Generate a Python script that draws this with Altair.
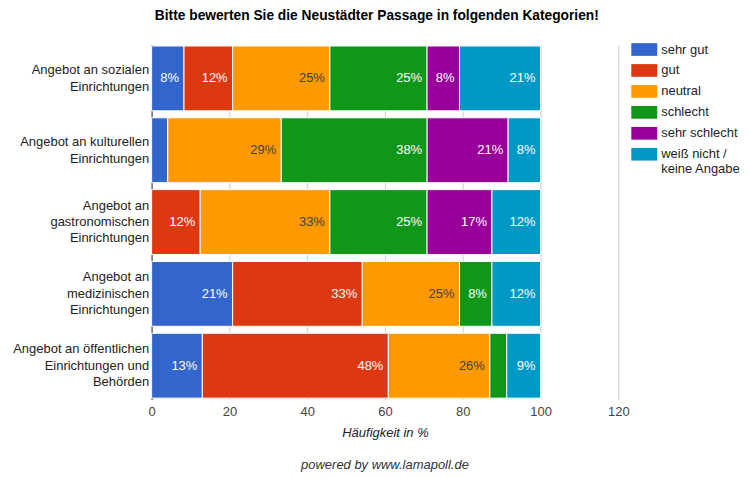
import altair as alt
import pandas as pd

categories = [
    "Angebot an sozialen|Einrichtungen",
    "Angebot an kulturellen|Einrichtungen",
    "Angebot an|gastronomischen|Einrichtungen",
    "Angebot an|medizinischen|Einrichtungen",
    "Angebot an öffentlichen|Einrichtungen und|Behörden",
]
options = ["sehr gut", "gut", "neutral", "schlecht", "sehr schlecht", "weiß nicht /|keine Angabe"]
colors = ["#3366cc", "#dc3912", "#ff9900", "#109618", "#990099", "#0099c6"]

sehr_gut = [8.33, 4.17, 0.0, 20.83, 13.04]
gut = [12.5, 0.0, 12.5, 33.33, 47.83]
neutral = [25.0, 29.17, 33.33, 25.0, 26.09]
schlecht = [25.0, 37.5, 25.0, 8.33, 4.35]
sehr_schlecht = [8.33, 20.83, 16.67, 0.0, 0.0]
weiss_nicht = [20.83, 8.33, 12.5, 12.5, 8.7]
series = [sehr_gut, gut, neutral, schlecht, sehr_schlecht, weiss_nicht]

title = "Bitte bewerten Sie die Neustädter Passage in folgenden Kategorien!"
x_title = "Häufigkeit in %"
footer = "powered by www.lamapoll.de"

rows = []
for i, cat in enumerate(categories):
    for j, opt in enumerate(options):
        v = series[j][i]
        rows.append({"cat": cat, "opt": opt, "order": j, "value": v,
                     "label": f"{round(v)}%" if v >= 5 else ""})
df = pd.DataFrame(rows)

W, H = 468, 356

base = alt.Chart(df).transform_stack(
    stack="value", groupby=["cat"], as_=["x0", "x1"],
    sort=[alt.SortField("order", order="ascending")]
)

y_enc = alt.Y("cat:N", sort=categories,
              scale=alt.Scale(paddingInner=0.097, paddingOuter=0.02),
              axis=alt.Axis(title=None, labelExpr="split(datum.label, '|')",
                            labelFontSize=13, labelColor="#222222", labelLineHeight=16.5,
                            labelOffset={"condition": {"test": "length(split(datum.value, '|')) == 3",
                                                       "value": -16.5},
                                         "value": -8},
                            domainColor="#333333", ticks=False, labelPadding=3,
                            labelLimit=200))

bars = base.mark_bar(stroke="white", strokeWidth=1).encode(
    y=y_enc,
    x=alt.X("x0:Q", scale=alt.Scale(domain=[0, 120], nice=False),
            axis=alt.Axis(title=x_title, titleFontStyle="italic", titleFontWeight="normal",
                          titleFontSize=13, titleColor="#222222", titlePadding=8,
                          values=list(range(0, 121, 10)),
                          labelExpr="datum.value % 20 == 0 ? datum.label : ''",
                          labelFontSize=13, labelColor="#444444", ticks=False, domain=False,
                          labelPadding=6, labelFlush=False,
                          gridColor={"condition": {"test": "datum.value % 20 == 0", "value": "#cccccc"},
                                     "value": "#e3e3e3"})),
    x2="x1:Q",
    color=alt.Color("opt:N", sort=options,
                    scale=alt.Scale(domain=options, range=colors),
                    legend=alt.Legend(title=None, orient="none", legendX=481, legendY=-8,
                                      symbolType="M-1,-0.49H1V0.49H-1Z", symbolSize=676,
                                      symbolStrokeWidth=0, symbolOpacity=1,
                                      labelFontSize=13, labelColor="#222222",
                                      labelExpr="split(datum.label, '|')",
                                      rowPadding=1, labelOffset=4,
                                      padding=0)),
)

texts = base.mark_text(align="right", dx=-5, fontSize=13, baseline="middle").encode(
    y=alt.Y("cat:N", sort=categories),
    x="x1:Q",
    text="label:N",
    color=alt.condition("datum.opt == 'neutral'", alt.value("#404040"), alt.value("#ffffff")),
)

foot = alt.Chart(pd.DataFrame({"t": [footer]})).mark_text(
    fontSize=13, fontStyle="italic", color="#333333", align="center"
).encode(text="t:N", x=alt.value(W / 2), y=alt.value(H + 66))

chart = alt.layer(bars, texts, foot).properties(
    width=W, height=H,
    title=alt.TitleParams(title, fontSize=13.8, fontWeight="bold", color="#000000",
                          anchor="middle", frame="bounds", offset=14),
    padding={"left": 4, "top": 0, "right": 0, "bottom": 0},
).configure(font="Liberation Sans").configure_view(stroke=None)

chart.save("out.html", embed_options={"renderer": "svg", "actions": False})
